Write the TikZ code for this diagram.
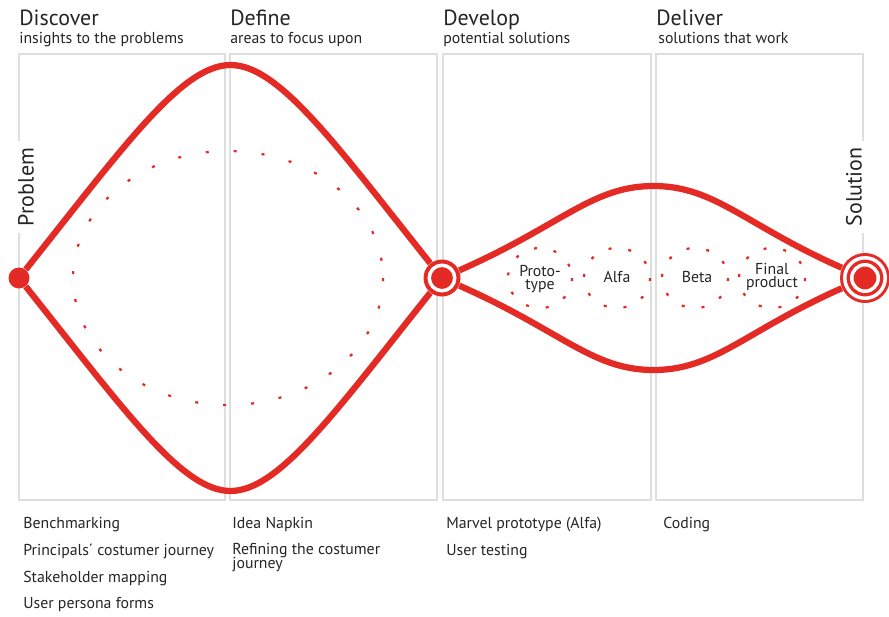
\documentclass[tikz,border=0pt]{standalone}
\usepackage{fontspec}
\setmainfont{PT Sans}
\usetikzlibrary{positioning}
\definecolor{ddred}{RGB}{228,42,36}
\definecolor{boxgray}{RGB}{222,222,222}
\definecolor{txtgray}{RGB}{38,36,36}
\newcommand{\tightlines}{\lineskiplimit=-6pt\relax\lineskip=0pt\relax}

\begin{document}
\begin{tikzpicture}[x=0.02cm, y=-0.02cm,
    panel/.style={draw=boxgray, line width=0.028cm},
    phase/.style={anchor=base west, inner sep=0pt, text=txtgray, font=\fontsize{12.5}{14}\selectfont},
    sub/.style={anchor=base west, inner sep=0pt, text=txtgray, font=\fontsize{9}{10}\selectfont},
    item/.style={anchor=base west, inner sep=0pt, align=left, text=txtgray,
        font=\fontsize{9}{7.6}\selectfont\tightlines},
    endlabel/.style={rotate=90, fill=white, inner sep=4pt, text=txtgray, font=\fontsize{12.5}{14}\selectfont},
    stage/.style={align=center, inner sep=0pt, text=txtgray,
        font=\fontsize{9}{7.6}\selectfont\tightlines},
    lens/.style={draw=ddred, line width=0.125cm},
    bigdots/.style={draw=ddred, line width=0.045cm, dash pattern=on 0.06cm off 0.5cm},
    smalldots/.style={draw=ddred, line width=0.045cm, dash pattern=on 0.06cm off 0.34cm},
    dot/.style={circle, fill=ddred, inner sep=0pt}
]

    \useasboundingbox (0,0) rectangle (889,616);

    % Panels
    \draw[panel] (19,54) rectangle (225,500);
    \draw[panel] (230,54) rectangle (437,500);
    \draw[panel] (443,54) rectangle (651,500);
    \draw[panel] (656,54) rectangle (863,500);

    % Phase titles
    \node[phase] (discover) at (19,25) {Discover};
    \node[sub] (discoversub) at (19,43) {insights to the problems};
    \node[phase] (define) at (230,25) {Define};
    \node[sub] (definesub) at (230,43) {areas to focus upon};
    \node[phase] (develop) at (443,25) {Develop};
    \node[sub] (developsub) at (443,43) {potential solutions};
    \node[phase] (deliver) at (656,25) {Deliver};
    \node[sub] (deliversub) at (658,43) {solutions that work};

    % Start and end labels
    \node[endlabel] (problem) at (26,187) {Problem};
    \node[endlabel] (solution) at (854,187) {Solution};

    % Start, middle and end points
    \node[dot, minimum size=0.42cm] (prob) at (19,278) {};
    \node[dot, minimum size=0.74cm] (mid) at (442,278) {};
    \draw[white, line width=0.07cm] (mid) circle (12.75);
    \node[dot, minimum size=1.0cm] (sol) at (865,278) {};
    \draw[white, line width=0.07cm] (sol) circle (20.25);
    \draw[white, line width=0.07cm] (sol) circle (13.25);

    % First diamond
    \draw[lens] (prob) .. controls (125,145) and (182,65) .. (230.5,65)
        .. controls (279,65) and (336,145) .. (mid);
    \draw[lens] (prob) .. controls (125,411) and (182,491) .. (230.5,491)
        .. controls (279,491) and (336,411) .. (mid);

    % Second diamond
    \draw[lens] (mid) .. controls (562,225) and (592,186) .. (653.5,186)
        .. controls (715,186) and (745,225) .. (sol);
    \draw[lens] (mid) .. controls (562,331) and (592,370) .. (653.5,370)
        .. controls (715,370) and (745,331) .. (sol);

    % Dotted ideas
    \draw[bigdots] (228,278) ellipse (155 and 127);
    \draw[smalldots] (540,278) ellipse (32 and 30);
    \draw[smalldots] (617,278) ellipse (33 and 30);
    \draw[smalldots] (695,278) ellipse (33 and 30);
    \draw[smalldots] (772,278) ellipse (33 and 30);

    \node[stage] (proto) at (540,279) {Proto-\\type};
    \node[stage] (alfa) at (617,277) {Alfa};
    \node[stage] (beta) at (697,277) {Beta};
    \node[stage] (final) at (772,277) {Final\\product};

    % Methods
    \node[item] (bench) at (23,528) {Benchmarking};
    \node[item] (journey) at (23,555) {Principals´ costumer journey};
    \node[item] (stake) at (23,582) {Stakeholder mapping};
    \node[item] (persona) at (23,608) {User persona forms};
    \node[item] (napkin) at (232,528) {Idea Napkin};
    \node[item] (refine) at (232,568) {Refining the costumer\\journey};
    \node[item] (marvel) at (446,528) {Marvel prototype (Alfa)};
    \node[item] (testing) at (446,555) {User testing};
    \node[item] (coding) at (663,528) {Coding};

\end{tikzpicture}
\end{document}
